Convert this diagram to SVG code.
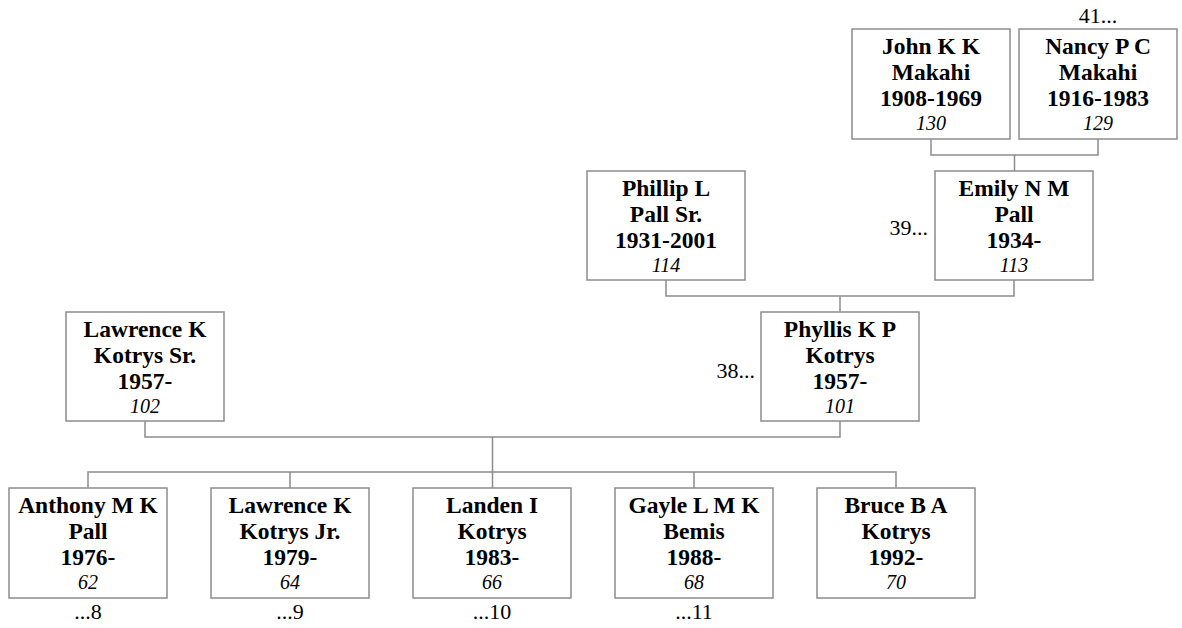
<svg xmlns="http://www.w3.org/2000/svg" width="1182" height="628" viewBox="0 0 1182 628">
<style>
.box{fill:#fff;stroke:#8c8c8c;stroke-width:1.5}
.c{fill:none;stroke:#8c8c8c;stroke-width:1.5}
text{font-family:"Liberation Serif","Times New Roman","DejaVu Serif",serif;fill:#000}
.n{font-weight:bold;font-size:23.5px;text-anchor:middle}
.id{font-style:italic;font-size:20px;text-anchor:middle}
.m{font-size:22px}
</style>
<rect width="1182" height="628" fill="#fff"/>
<g id="connectors">
<path class="c" d="M931 139V155H1098V139M1014.5 155V171"/>
<path class="c" d="M666 280V296H1014V280M840 296V312"/>
<path class="c" d="M145 421V437H840V421M492.5 437V488"/>
<path class="c" d="M88 488V472H896V488M290 472V488M694 472V488"/>
</g>
<g id="john"><rect class="box" x="852" y="29" width="158" height="110"/>
<text class="n" x="931" y="54">John K K</text><text class="n" x="931" y="80">Makahi</text><text class="n" x="931" y="106">1908-1969</text><text class="id" x="931" y="130">130</text></g>
<g id="nancy"><rect class="box" x="1019" y="29" width="158" height="110"/>
<text class="n" x="1098" y="54">Nancy P C</text><text class="n" x="1098" y="80">Makahi</text><text class="n" x="1098" y="106">1916-1983</text><text class="id" x="1098" y="130">129</text>
<text class="m" x="1098" y="23" text-anchor="middle">41...</text></g>
<g id="phillip"><rect class="box" x="587" y="171" width="158" height="109"/>
<text class="n" x="666" y="196">Phillip L</text><text class="n" x="666" y="222">Pall Sr.</text><text class="n" x="666" y="248">1931-2001</text><text class="id" x="666" y="272">114</text></g>
<g id="emily"><rect class="box" x="935" y="171" width="158" height="109"/>
<text class="n" x="1014" y="196">Emily N M</text><text class="n" x="1014" y="222">Pall</text><text class="n" x="1014" y="248">1934-</text><text class="id" x="1014" y="272">113</text>
<text class="m" x="928" y="235" text-anchor="end">39...</text></g>
<g id="lawrence-sr"><rect class="box" x="66" y="312" width="158" height="109"/>
<text class="n" x="145" y="337">Lawrence K</text><text class="n" x="145" y="363">Kotrys Sr.</text><text class="n" x="145" y="389">1957-</text><text class="id" x="145" y="413">102</text></g>
<g id="phyllis"><rect class="box" x="761" y="312" width="158" height="109"/>
<text class="n" x="840" y="337">Phyllis K P</text><text class="n" x="840" y="363">Kotrys</text><text class="n" x="840" y="389">1957-</text><text class="id" x="840" y="413">101</text>
<text class="m" x="755" y="378" text-anchor="end">38...</text></g>
<g id="anthony"><rect class="box" x="9" y="488" width="158" height="110"/>
<text class="n" x="88" y="513">Anthony M K</text><text class="n" x="88" y="539">Pall</text><text class="n" x="88" y="565">1976-</text><text class="id" x="88" y="589">62</text>
<text class="m" x="88" y="619" text-anchor="middle">...8</text></g>
<g id="lawrence-jr"><rect class="box" x="211" y="488" width="158" height="110"/>
<text class="n" x="290" y="513">Lawrence K</text><text class="n" x="290" y="539">Kotrys Jr.</text><text class="n" x="290" y="565">1979-</text><text class="id" x="290" y="589">64</text>
<text class="m" x="290" y="619" text-anchor="middle">...9</text></g>
<g id="landen"><rect class="box" x="413" y="488" width="158" height="110"/>
<text class="n" x="492" y="513">Landen I</text><text class="n" x="492" y="539">Kotrys</text><text class="n" x="492" y="565">1983-</text><text class="id" x="492" y="589">66</text>
<text class="m" x="492" y="619" text-anchor="middle">...10</text></g>
<g id="gayle"><rect class="box" x="615" y="488" width="158" height="110"/>
<text class="n" x="694" y="513">Gayle L M K</text><text class="n" x="694" y="539">Bemis</text><text class="n" x="694" y="565">1988-</text><text class="id" x="694" y="589">68</text>
<text class="m" x="694" y="619" text-anchor="middle">...11</text></g>
<g id="bruce"><rect class="box" x="817" y="488" width="158" height="110"/>
<text class="n" x="896" y="513">Bruce B A</text><text class="n" x="896" y="539">Kotrys</text><text class="n" x="896" y="565">1992-</text><text class="id" x="896" y="589">70</text></g>
</svg>
